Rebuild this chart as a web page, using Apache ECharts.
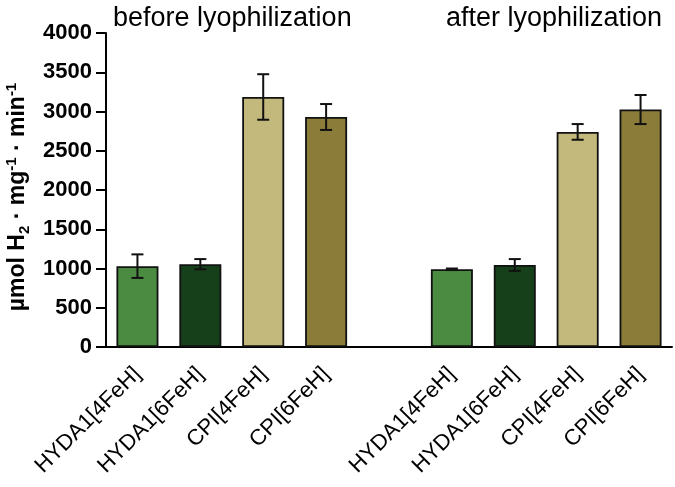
<!DOCTYPE html>
<html>
<head>
<meta charset="utf-8">
<script src="https://cdn.jsdelivr.net/npm/echarts@6/dist/echarts.min.js"></script>
<style>html,body{margin:0;padding:0;background:#fff;}#c{width:675px;height:487px;}</style>
</head>
<body>
<div id="c"></div>
<script>
var categories = ['HYDA1[4FeH]', 'HYDA1[6FeH]', 'CPI[4FeH]', 'CPI[6FeH]', '', 'HYDA1[4FeH]', 'HYDA1[6FeH]', 'CPI[4FeH]', 'CPI[6FeH]'];
var means = [1030, 1055, 3185, 2930, null, 990, 1045, 2740, 3025];
var errors = [150, 65, 290, 165, null, 10, 75, 100, 185];
var barColors = ['#4a8b41', '#16401a', '#c4b97c', '#8b7c3a', null, '#4a8b41', '#16401a', '#c4b97c', '#8b7c3a'];
var groupTitles = ['before lyophilization', 'after lyophilization'];
var yTicks = {min: 0, max: 4000, interval: 500};

var chart = echarts.init(document.getElementById('c'));
var barData = means.map(function (v, i) {
  return v == null ? null : {value: v, itemStyle: {color: barColors[i]}};
});
var errData = [];
means.forEach(function (v, i) {
  if (v != null) errData.push([i, v - errors[i], v + errors[i]]);
});
var FONT = 'Liberation Sans, Arial, sans-serif';
chart.setOption({
  animation: false,
  backgroundColor: '#fff',
  title: [
    {text: groupTitles[0], left: 108, top: 0, textStyle: {fontFamily: FONT, fontSize: 27, fontWeight: 'normal', color: '#000'}},
    {text: groupTitles[1], left: 441, top: 0, textStyle: {fontFamily: FONT, fontSize: 27, fontWeight: 'normal', color: '#000'}}
  ],
  grid: {left: 106, right: 3, top: 33, bottom: 140, containLabel: false, outerBoundsMode: 'none'},
  xAxis: {
    type: 'category',
    data: categories,
    axisLine: {lineStyle: {color: '#000', width: 2}},
    axisTick: {alignWithLabel: true, length: 10, lineStyle: {color: '#000', width: 2},
      interval: function (idx, val) { return val !== ''; }},
    axisLabel: {interval: 0, rotate: 45, margin: 24, fontFamily: FONT, fontSize: 22, color: '#000'}
  },
  yAxis: {
    type: 'value',
    min: yTicks.min, max: yTicks.max, interval: yTicks.interval,
    splitLine: {show: false},
    axisLine: {show: true, lineStyle: {color: '#000', width: 2}},
    axisTick: {show: true, length: 10, lineStyle: {color: '#000', width: 2}},
    axisLabel: {margin: 14, fontFamily: FONT, fontSize: 22, fontWeight: 'bold', color: '#000',
      formatter: function (v) { return String(v); }},
    name: '{a|µmol H}{sub|2}{a| · mg}{sup|-1}{a| · min}{sup|-1}',
    nameLocation: 'middle',
    nameGap: 74,
    nameRotate: 90,
    nameTextStyle: {
      padding: [0, 14, 0, 0],
      rich: {
        a: {fontFamily: FONT, fontSize: 23, fontWeight: 'bold', color: '#000', lineHeight: 28},
        sub: {fontFamily: FONT, fontSize: 15, fontWeight: 'bold', color: '#000', verticalAlign: 'bottom', lineHeight: 28},
        sup: {fontFamily: FONT, fontSize: 15, fontWeight: 'bold', color: '#000', verticalAlign: 'top', lineHeight: 28}
      }
    }
  },
  series: [
    {
      type: 'bar',
      data: barData,
      barWidth: 42,
      itemStyle: {borderColor: '#111', borderWidth: 1.8}
    },
    {
      type: 'custom',
      data: errData,
      z: 5,
      renderItem: function (params, api) {
        var x = api.value(0);
        var lo = api.coord([x, api.value(1)]);
        var hi = api.coord([x, api.value(2)]);
        var hw = 6;
        var st = {stroke: '#111', lineWidth: 2};
        return {
          type: 'group',
          children: [
            {type: 'line', shape: {x1: lo[0], y1: lo[1], x2: hi[0], y2: hi[1]}, style: st},
            {type: 'line', shape: {x1: lo[0] - hw, y1: lo[1], x2: lo[0] + hw, y2: lo[1]}, style: st},
            {type: 'line', shape: {x1: hi[0] - hw, y1: hi[1], x2: hi[0] + hw, y2: hi[1]}, style: st}
          ]
        };
      }
    }
  ]
});
</script>
</body>
</html>
